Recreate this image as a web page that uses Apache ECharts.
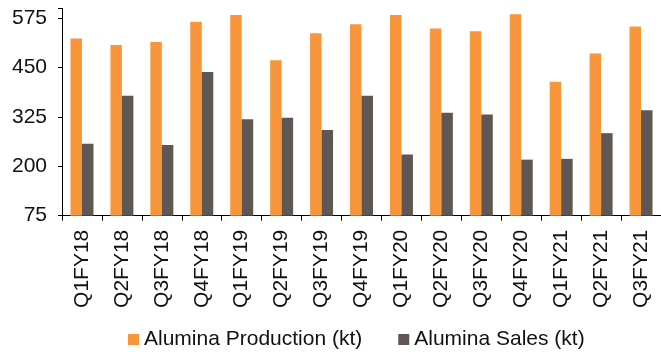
<!DOCTYPE html>
<html>
<head>
<meta charset="utf-8">
<script src="https://cdn.jsdelivr.net/npm/echarts@6/dist/echarts.min.js"></script>
<style>
  html, body { margin: 0; padding: 0; background: #fff; }
  #chart { width: 661px; height: 352px; }
</style>
</head>
<body>
<div id="chart"></div>
<script>
// 季度
const quarters = ['Q1FY18', 'Q2FY18', 'Q3FY18', 'Q4FY18', 'Q1FY19', 'Q2FY19', 'Q3FY19', 'Q4FY19',
  'Q1FY20', 'Q2FY20', 'Q3FY20', 'Q4FY20', 'Q1FY21', 'Q2FY21', 'Q3FY21'];
const production = [524, 507, 515, 566, 583, 469, 537, 560, 583, 549, 542, 585, 414, 486, 554];
const sales = [257, 379, 254, 439, 319, 323, 292, 379, 230, 336, 331, 217, 219, 284, 342];
const yTicks = [75, 200, 325, 450, 575];

const font = 'Liberation Sans, Arial, sans-serif';

let option = {
  color: ['#f7963a', '#5f5753'],
  animation: false,
  grid: {
    left: 62,
    right: 0,
    top: 8.4,
    bottom: 136.3
  },
  legend: {
    left: 123,
    top: 324,
    itemWidth: 11,
    itemHeight: 11,
    itemGap: 36,
    icon: 'rect',
    textStyle: {
      fontFamily: font,
      fontSize: 21,
      color: '#111'
    },
    data: ['Alumina Production (kt)', 'Alumina Sales (kt)']
  },
  xAxis: {
    type: 'category',
    data: quarters,
    axisLine: { lineStyle: { color: '#000', width: 1 } },
    axisTick: { show: true, length: 5, lineStyle: { color: '#000' } },
    axisLabel: {
      rotate: 90,
      margin: 14,
      fontFamily: font,
      fontSize: 21,
      color: '#111'
    },
    splitLine: { show: false }
  },
  yAxis: {
    type: 'value',
    min: 75,
    max: 600,
    interval: 125,
    axisLine: { show: true, lineStyle: { color: '#000', width: 1 } },
    axisTick: { show: true, length: 4, lineStyle: { color: '#000' } },
    axisLabel: {
      margin: 15,
      fontFamily: font,
      fontSize: 21,
      color: '#111',
      formatter: function (v) {
        return yTicks.indexOf(v) >= 0 ? String(v) : '';
      }
    },
    splitLine: { show: false }
  },
  series: [{
    name: 'Alumina Production (kt)',
    type: 'bar',
    barWidth: 11.5,
    barGap: '0%',
    data: production
  }, {
    name: 'Alumina Sales (kt)',
    type: 'bar',
    barWidth: 11.5,
    barGap: '0%',
    data: sales
  }]
};

let myChart = echarts.init(document.getElementById('chart'));
myChart.setOption(option);
</script>
</body>
</html>
